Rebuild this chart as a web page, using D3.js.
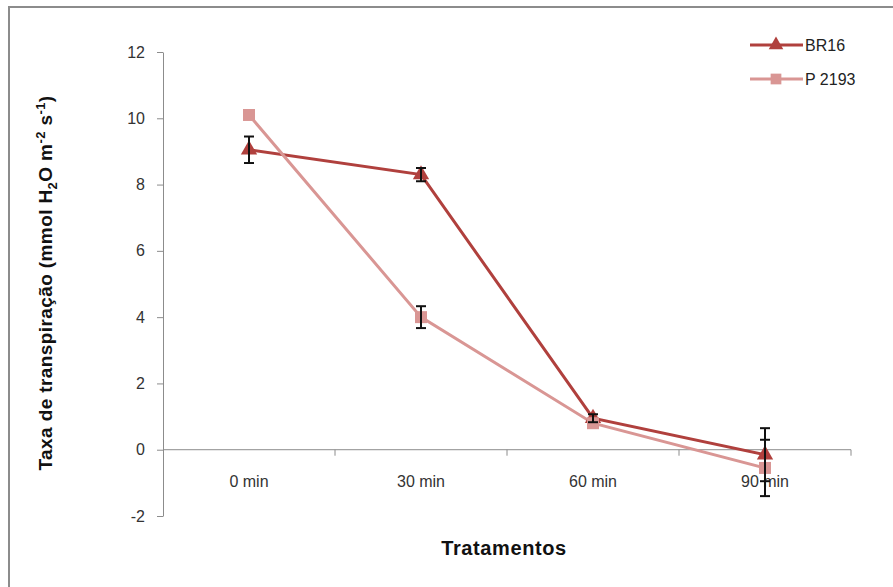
<!DOCTYPE html>
<html>
<head>
<meta charset="utf-8">
<script src="https://cdn.jsdelivr.net/npm/d3@7"></script>
<style>
  body { margin: 0; background: #fff; }
  svg { display: block; font-family: "Liberation Sans", Arial, sans-serif; }
</style>
</head>
<body>
<div id="chart"></div>
<script>
const categories = ["0 min", "30 min", "60 min", "90 min"];
const seriesNames = ["BR16", "P 2193"];
const br16 = [9.05, 8.3, 0.95, -0.15];
const br16Err = [0.4, 0.2, 0.12, 0.8];
const p2193 = [10.1, 4.0, 0.8, -0.55];
const p2193Err = [0, 0.33, 0, 0.85];
const yTicks = [-2, 0, 2, 4, 6, 8, 10, 12];

const width = 893, height = 587;
const colors = { "BR16": "#B0403D", "P 2193": "#D99694" };

const svg = d3.select("#chart").append("svg")
  .attr("width", width).attr("height", height);

// outer frame
svg.append("rect")
  .attr("x", 9).attr("y", 7).attr("width", 900).attr("height", 600)
  .attr("fill", "none").attr("stroke", "#8c8c8c").attr("stroke-width", 2);

const x = d3.scaleBand().domain(categories).range([163, 851]);
const y = d3.scaleLinear().domain([-2, 12]).range([516, 52]);
const cx = d => x(d) + x.bandwidth() / 2;

// y axis
const yAxis = svg.append("g")
  .attr("transform", "translate(163,0)")
  .call(d3.axisLeft(y).tickValues(yTicks).tickFormat(d => String(d))
    .tickSize(6).tickPadding(12).tickSizeOuter(0));
yAxis.select(".domain").attr("stroke", "#8c8c8c");
yAxis.selectAll(".tick line").attr("stroke", "#8c8c8c");
yAxis.selectAll(".tick text").attr("fill", "#333").style("font-size", "16px");

// x axis at zero
const xg = svg.append("g");
xg.append("line")
  .attr("x1", 163).attr("x2", 851)
  .attr("y1", y(0)).attr("y2", y(0))
  .attr("stroke", "#8c8c8c");
const bounds = categories.map(c => x(c)).concat([x(categories[categories.length - 1]) + x.bandwidth()]);
xg.selectAll("line.tk").data(bounds.slice(1)).join("line")
  .attr("class", "tk")
  .attr("x1", d => d).attr("x2", d => d)
  .attr("y1", y(0)).attr("y2", y(0) + 6)
  .attr("stroke", "#8c8c8c");
xg.selectAll("text").data(categories).join("text")
  .attr("x", d => cx(d)).attr("y", 487)
  .attr("text-anchor", "middle")
  .attr("fill", "#333").style("font-size", "16px")
  .text(d => d);

const series = [
  { name: "BR16", values: br16, err: br16Err, marker: d3.symbolTriangle, size: 115 },
  { name: "P 2193", values: p2193, err: p2193Err, marker: d3.symbolSquare, size: 144 }
];

const line = d3.line().x((d, i) => cx(categories[i])).y(d => y(d));

// lines
series.forEach(s => {
  svg.append("path")
    .datum(s.values)
    .attr("d", line)
    .attr("fill", "none")
    .attr("stroke", colors[s.name])
    .attr("stroke-width", 3);
});

// markers
series.forEach(s => {
  svg.append("g").selectAll("path").data(s.values).join("path")
    .attr("transform", (d, i) => `translate(${cx(categories[i])},${y(d)})`)
    .attr("d", d3.symbol().type(s.marker).size(s.size))
    .attr("fill", colors[s.name]);
});

// error bars
series.forEach(s => {
  const g = svg.append("g").attr("stroke", "#111").attr("stroke-width", 2);
  s.values.forEach((v, i) => {
    if (!s.err[i]) return;
    const px = cx(categories[i]);
    const y1 = y(v + s.err[i]), y2 = y(v - s.err[i]);
    g.append("line").attr("x1", px).attr("x2", px).attr("y1", y1).attr("y2", y2);
    g.append("line").attr("x1", px - 5).attr("x2", px + 5).attr("y1", y1).attr("y2", y1);
    g.append("line").attr("x1", px - 5).attr("x2", px + 5).attr("y1", y2).attr("y2", y2);
  });
});

// legend
const leg = svg.append("g");
seriesNames.forEach((name, i) => {
  const s = series[i];
  const ly = 45 + i * 34;
  leg.append("line")
    .attr("x1", 750).attr("x2", 803).attr("y1", ly).attr("y2", ly)
    .attr("stroke", colors[name]).attr("stroke-width", 3);
  leg.append("path")
    .attr("transform", `translate(776,${ly})`)
    .attr("d", d3.symbol().type(s.marker).size(s.size * 0.8))
    .attr("fill", colors[name]);
  leg.append("text")
    .attr("x", 805).attr("y", ly + 6)
    .attr("fill", "#222").style("font-size", "16px")
    .text(name);
});

// axis titles
svg.append("text")
  .attr("x", 504).attr("y", 555)
  .attr("text-anchor", "middle")
  .style("font-size", "20px").style("font-weight", "bold")
  .style("letter-spacing", "0.6px")
  .attr("fill", "#111")
  .text("Tratamentos");

const yt = svg.append("text")
  .attr("transform", "translate(52,283) rotate(-90)")
  .attr("text-anchor", "middle")
  .style("font-size", "19px").style("font-weight", "bold")
  .style("letter-spacing", "0.4px")
  .attr("fill", "#111");
yt.append("tspan").text("Taxa de transpiração (mmol H");
yt.append("tspan").attr("dy", 5).style("font-size", "13px").text("2");
yt.append("tspan").attr("dy", -5).text("O m");
yt.append("tspan").attr("dy", -7).style("font-size", "13px").text("-2");
yt.append("tspan").attr("dy", 7).text(" s");
yt.append("tspan").attr("dy", -7).style("font-size", "13px").text("-1");
yt.append("tspan").attr("dy", 7).text(")");
</script>
</body>
</html>
